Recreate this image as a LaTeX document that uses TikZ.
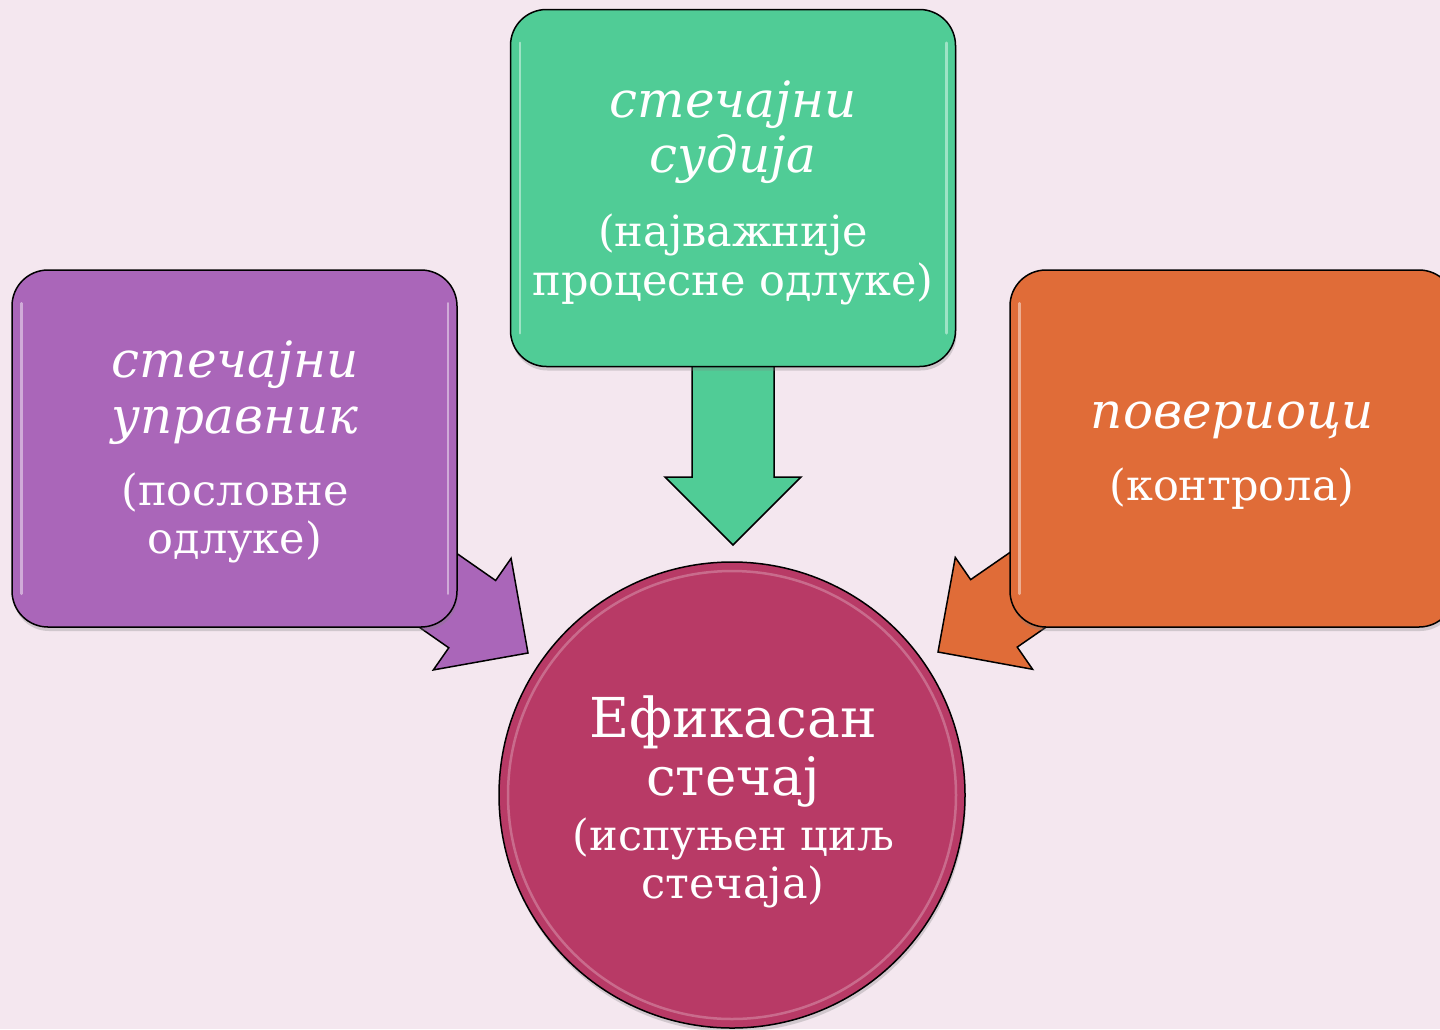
\documentclass[tikz,border=0pt]{standalone}
\usepackage{fontspec}
\setmainfont{DejaVu Serif}
\usetikzlibrary{calc,shadows}
\pgfdeclarelayer{background}
\pgfsetlayers{background,main}
\definecolor{bg}{HTML}{F4E7EF}
\definecolor{cpurple}{HTML}{AA66B9}
\definecolor{cgreen}{HTML}{50CC96}
\definecolor{corange}{HTML}{E06C38}
\definecolor{ccrimson}{HTML}{B83A66}
\newcommand\headtxt{\fontsize{50}{56}\selectfont\itshape}
\newcommand\subtxt{\fontsize{43}{48}\selectfont}
\newcommand\bigtxt{\fontsize{55}{60}\selectfont}
\newcommand\blockarrow[3]{%
  \path (#2) coordinate (tipX) ($(#2)!68pt!(#1)$) coordinate (hX);
  \draw[arrowbody, fill=#3]
    ($(#1)!41pt!90:(tipX)$) -- ($(hX)!41pt!90:(tipX)$) -- ($(hX)!68pt!90:(tipX)$)
    -- (tipX) -- ($(hX)!68pt!-90:(tipX)$) -- ($(hX)!41pt!-90:(tipX)$)
    -- ($(#1)!41pt!-90:(tipX)$) -- cycle;}
\newcommand\glossbox[1]{%
  \draw[glossline] ($(#1.north west)+(10,34)$) -- ($(#1.south west)+(10,-34)$);
  \draw[glossline] ($(#1.north east)+(-10,34)$) -- ($(#1.south east)+(-10,-34)$);}
\begin{document}
\begin{tikzpicture}[x=1pt,y=-1pt,
  box/.style={draw=black, line width=1.5pt, rounded corners=36pt,
    minimum width=445pt, minimum height=357pt, inner sep=0pt,
    drop shadow={shadow xshift=1pt, shadow yshift=-4pt, opacity=.3}},
  glossline/.style={draw=white, line width=2.5pt, opacity=.45, line cap=round},
  arrowbody/.style={draw=black, line width=1.5pt, line join=miter},
  lbl/.style={text=white, anchor=base, inner sep=0pt}]
\begin{pgfonlayer}{background}
\fill[bg] (0,0) rectangle (1440,1029);
\end{pgfonlayer}
\useasboundingbox (0,0) rectangle (1440,1029);

% boxes
\node[box, fill=cpurple] (pbox) at (234.5,448.5) {};
\node[box, fill=cgreen] (gbox) at (733,188) {};
\node[box, fill=corange] (obox) at (1232.5,448.5) {};
\glossbox{pbox}
\glossbox{gbox}
\glossbox{obox}

% circle
\node[circle, draw=black, line width=1.5pt, fill=ccrimson, minimum size=466pt,
  drop shadow={shadow xshift=1pt, shadow yshift=-4pt, opacity=.3}] (circ) at (732,795) {};
\node[circle, draw=white, line width=2.5pt, opacity=.25, minimum size=448pt] (circgl) at (circ) {};

% arrow tips
\coordinate (ptip) at (528,653);
\coordinate (gtip) at (733,545);
\coordinate (otip) at (938,652);
\begin{pgfonlayer}{background}
\blockarrow{pbox.center}{ptip}{cpurple}
\blockarrow{gbox.center}{gtip}{cgreen}
\blockarrow{obox.center}{otip}{corange}
\end{pgfonlayer}

% texts
\node[lbl] (p1) at (235,377) {\headtxt стечајни};
\node[lbl] (p2) at (235,433) {\headtxt управник};
\node[lbl] (p3) at (235,505) {\subtxt (пословне};
\node[lbl] (p4) at (235,553) {\subtxt одлуке)};

\node[lbl] (g1) at (733,117) {\headtxt стечајни};
\node[lbl] (g2) at (733,172) {\headtxt судија};
\node[lbl] (g3) at (733,246) {\subtxt (најважније};
\node[lbl] (g4) at (733,295) {\subtxt процесне одлуке)};

\node[lbl] (o1) at (1232,428) {\headtxt повериоци};
\node[lbl] (o2) at (1232,500) {\subtxt (контрола)};

\node[lbl] (c1) at (733,737) {\bigtxt Ефикасан};
\node[lbl] (c2) at (733,795) {\fontsize{53}{58}\selectfont стечај};
\node[lbl] (c3) at (733,850) {\subtxt (испуњен циљ};
\node[lbl] (c4) at (733,898) {\subtxt стечаја)};
\end{tikzpicture}
\end{document}
